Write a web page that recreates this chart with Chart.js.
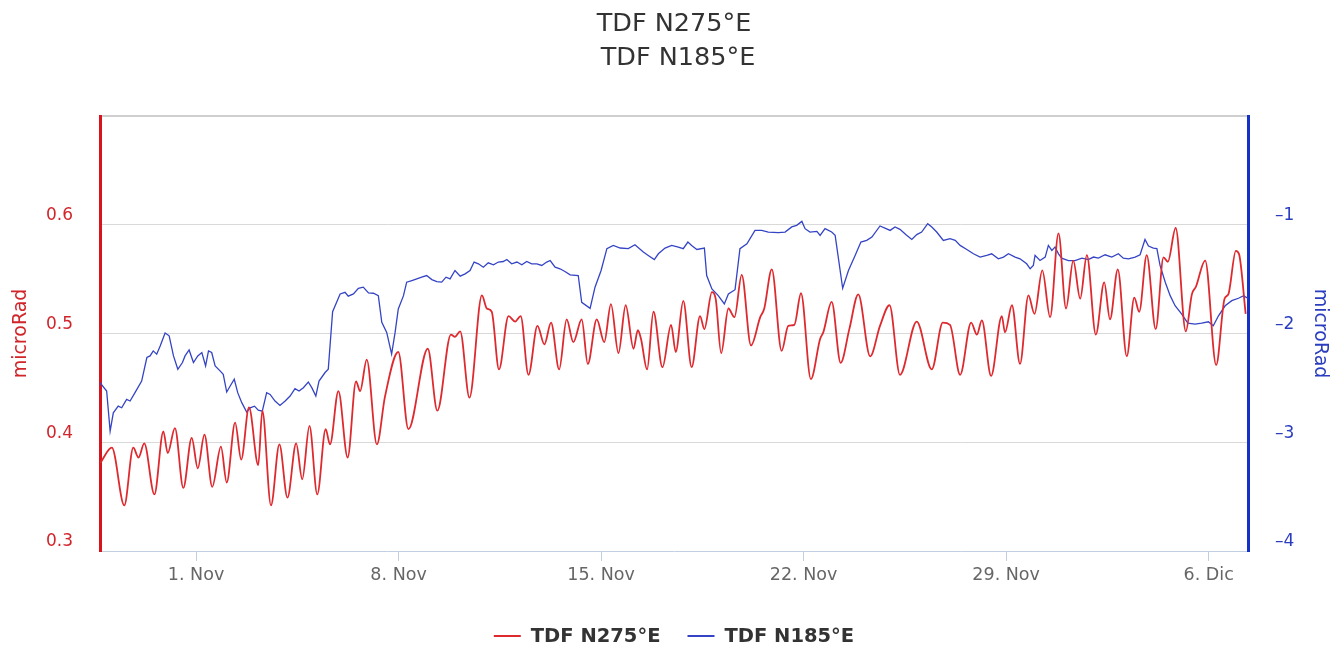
<!DOCTYPE html>
<html>
<head>
<meta charset="utf-8">
<script src="https://cdn.jsdelivr.net/npm/chart.js@4.4.1/dist/chart.umd.min.js"></script>
<style>
  html, body { margin: 0; padding: 0; background: #fff; }
  #wrap { width: 1331px; height: 648px; }
</style>
</head>
<body>
<div id="wrap"><canvas id="tiltChart" width="1331" height="648"></canvas></div>
<script>
// Series names, axis titles and tick labels
const seriesNames = ['TDF N275°E', 'TDF N185°E'];
const titleLines = ['TDF N275°E', ' TDF N185°E'];
const axisTitle = 'microRad';
const monthNames = ['Ene', 'Feb', 'Mar', 'Abr', 'May', 'Jun', 'Jul', 'Ago', 'Sep', 'Oct', 'Nov', 'Dic'];

// Time is counted in days from 1 November, 00:00
const periodStart = Date.UTC(2015, 10, 1);
const xRange = [-3.32, 36.36];
const xTickDays = [0, 7, 14, 21, 28, 35];

const leftTickValues = [0.3, 0.4, 0.5, 0.6, 0.7];
const leftTickLabels = ['0.3', '0.4', '0.5', '0.6', ''];
const rightTickValues = [-4, -3, -2, -1, 0];
const rightTickLabels = ['–4', '–3', '–2', '–1', ''];

// TDF N275°E (left axis)
const redDays = [-3.31,-2.91,-2.48,-2.17,-1.99,-1.79,-1.44,-1.13,-0.98,-0.73,
  -0.44,-0.15,0.06,0.29,0.56,0.86,1.06,1.35,1.56,1.83,
  2.15,2.29,2.59,2.88,3.16,3.46,3.67,3.92,4.19,4.48,
  4.63,4.92,5.24,5.53,5.67,5.90,6.25,6.53,6.99,7.34,
  8.01,8.34,8.81,8.95,9.13,9.45,9.88,10.05,10.22,10.47,
  10.80,11.03,11.22,11.49,11.80,12.04,12.27,12.55,12.81,13.04,
  13.33,13.54,13.85,14.11,14.34,14.60,14.85,15.12,15.27,15.38,
  15.59,15.81,16.12,16.42,16.58,16.84,17.13,17.42,17.57,17.83,
  17.96,18.15,18.40,18.61,18.86,19.18,19.50,19.64,19.90,20.24,
  20.47,20.68,20.91,21.25,21.57,21.68,21.97,22.28,22.58,22.89,
  23.30,23.64,23.97,24.33,24.91,25.43,25.81,26.06,26.41,26.79,
  26.99,27.16,27.48,27.85,27.96,28.20,28.48,28.77,28.98,29.25,
  29.52,29.81,30.07,30.32,30.56,30.79,31.10,31.39,31.59,31.86,
  32.17,32.43,32.60,32.86,33.17,33.44,33.59,33.86,34.21,34.42,
  34.56,34.88,35.26,35.55,35.68,35.94,36.05,36.28];
const redValues = [0.381,0.395,0.342,0.395,0.386,0.399,0.352,0.410,0.390,0.413,
  0.358,0.404,0.376,0.407,0.359,0.396,0.363,0.418,0.384,0.432,
  0.379,0.429,0.342,0.398,0.349,0.399,0.366,0.415,0.352,0.412,
  0.398,0.447,0.386,0.456,0.447,0.476,0.398,0.442,0.483,0.412,
  0.486,0.429,0.499,0.497,0.502,0.441,0.535,0.523,0.520,0.467,
  0.516,0.511,0.516,0.462,0.507,0.490,0.510,0.467,0.513,0.492,
  0.513,0.472,0.513,0.492,0.527,0.482,0.526,0.486,0.503,0.495,
  0.467,0.520,0.469,0.508,0.483,0.530,0.469,0.516,0.504,0.538,
  0.532,0.482,0.523,0.515,0.554,0.489,0.515,0.523,0.559,0.484,
  0.507,0.508,0.537,0.458,0.495,0.501,0.529,0.473,0.504,0.536,
  0.479,0.507,0.526,0.462,0.511,0.467,0.510,0.508,0.462,0.510,
  0.499,0.512,0.461,0.516,0.501,0.526,0.472,0.535,0.518,0.558,
  0.515,0.592,0.523,0.567,0.532,0.572,0.499,0.547,0.513,0.559,
  0.479,0.533,0.520,0.572,0.504,0.570,0.566,0.597,0.502,0.536,
  0.543,0.567,0.471,0.532,0.536,0.576,0.573,0.518];

// TDF N185°E (right axis)
const blueDays = [-3.32,-3.09,-2.97,-2.86,-2.69,-2.57,-2.40,-2.28,-2.11,-1.88,
  -1.70,-1.59,-1.48,-1.36,-1.24,-1.07,-0.93,-0.78,-0.63,-0.47,
  -0.38,-0.24,-0.09,0.06,0.20,0.33,0.43,0.54,0.66,0.83,
  0.94,1.06,1.18,1.32,1.44,1.58,1.75,1.87,2.02,2.15,
  2.29,2.44,2.56,2.73,2.90,3.08,3.25,3.42,3.56,3.71,
  3.88,4.00,4.14,4.25,4.46,4.57,4.72,4.98,5.15,5.26,
  5.44,5.61,5.78,5.96,6.13,6.30,6.42,6.59,6.76,6.88,
  6.99,7.17,7.28,7.46,7.63,7.80,7.97,8.15,8.32,8.49,
  8.64,8.78,8.95,9.13,9.30,9.47,9.61,9.76,9.93,10.10,
  10.28,10.45,10.62,10.74,10.91,11.09,11.26,11.43,11.60,11.78,
  11.95,12.12,12.24,12.41,12.58,12.75,12.93,13.21,13.33,13.62,
  13.79,14.00,14.20,14.42,14.66,14.94,15.17,15.46,15.63,15.84,
  15.98,16.21,16.44,16.67,16.84,17.00,17.13,17.31,17.57,17.65,
  17.83,18.05,18.26,18.40,18.63,18.80,19.04,19.32,19.55,19.78,
  20.13,20.36,20.59,20.76,20.94,21.05,21.22,21.46,21.57,21.74,
  21.97,22.09,22.35,22.55,22.78,22.98,23.18,23.36,23.64,23.85,
  23.99,24.16,24.33,24.54,24.74,24.91,25.08,25.29,25.43,25.60,
  25.83,26.06,26.24,26.41,26.64,26.87,27.10,27.33,27.50,27.73,
  27.91,28.08,28.31,28.48,28.71,28.83,28.94,29.00,29.17,29.35,
  29.46,29.58,29.69,29.81,29.92,30.15,30.38,30.62,30.84,31.02,
  31.19,31.42,31.65,31.88,32.05,32.23,32.46,32.63,32.80,32.92,
  33.09,33.21,33.32,33.50,33.67,33.84,34.07,34.28,34.53,34.76,
  34.99,35.16,35.34,35.57,35.80,36.03,36.21,36.38];
const blueValues = [-2.452,-2.529,-2.898,-2.729,-2.668,-2.683,-2.606,-2.621,-2.544,-2.437,
  -2.221,-2.206,-2.160,-2.190,-2.114,-1.996,-2.021,-2.206,-2.329,-2.267,
  -2.206,-2.151,-2.267,-2.206,-2.175,-2.298,-2.160,-2.175,-2.298,-2.344,
  -2.375,-2.538,-2.483,-2.421,-2.544,-2.636,-2.723,-2.683,-2.668,-2.705,
  -2.714,-2.544,-2.560,-2.621,-2.661,-2.621,-2.575,-2.507,-2.529,-2.498,
  -2.446,-2.498,-2.575,-2.437,-2.359,-2.329,-1.800,-1.636,-1.621,-1.657,
  -1.636,-1.584,-1.574,-1.627,-1.630,-1.652,-1.897,-1.990,-2.190,-1.990,
  -1.775,-1.652,-1.528,-1.513,-1.498,-1.482,-1.467,-1.504,-1.523,-1.528,
  -1.482,-1.498,-1.421,-1.473,-1.452,-1.421,-1.343,-1.359,-1.390,-1.350,
  -1.368,-1.343,-1.338,-1.320,-1.359,-1.343,-1.368,-1.338,-1.359,-1.359,
  -1.374,-1.343,-1.329,-1.390,-1.405,-1.430,-1.461,-1.467,-1.713,-1.769,
  -1.574,-1.421,-1.220,-1.190,-1.214,-1.220,-1.184,-1.251,-1.282,-1.320,
  -1.267,-1.214,-1.190,-1.205,-1.220,-1.159,-1.190,-1.227,-1.214,-1.467,
  -1.590,-1.652,-1.728,-1.636,-1.597,-1.220,-1.175,-1.052,-1.052,-1.067,
  -1.073,-1.067,-1.020,-1.005,-0.969,-1.036,-1.067,-1.061,-1.098,-1.036,
  -1.067,-1.098,-1.584,-1.421,-1.282,-1.159,-1.144,-1.113,-1.011,-1.036,
  -1.052,-1.020,-1.042,-1.091,-1.135,-1.091,-1.067,-0.990,-1.020,-1.067,
  -1.144,-1.128,-1.144,-1.190,-1.227,-1.267,-1.297,-1.282,-1.267,-1.313,
  -1.297,-1.267,-1.297,-1.313,-1.359,-1.405,-1.374,-1.282,-1.329,-1.297,
  -1.190,-1.236,-1.205,-1.267,-1.307,-1.329,-1.329,-1.307,-1.320,-1.297,
  -1.307,-1.276,-1.297,-1.267,-1.307,-1.313,-1.297,-1.276,-1.135,-1.196,
  -1.214,-1.220,-1.374,-1.528,-1.652,-1.745,-1.821,-1.904,-1.913,-1.904,
  -1.892,-1.929,-1.837,-1.745,-1.698,-1.676,-1.652,-1.682];

const redColor = '#de2a2f';
const blueColor = '#3444c4';
const redAxisColor = '#d7141c';
const blueAxisColor = '#1432c6';
const redLabelColor = '#d0262b';
const blueLabelColor = '#2a3cbf';

Chart.defaults.font.family = '"DejaVu Sans", Verdana, sans-serif';

function dayLabel(day) {
  const d = new Date(periodStart + day * 86400000);
  return d.getUTCDate() + '. ' + monthNames[d.getUTCMonth()];
}

// Line-and-name key drawn centred under the plot
const seriesKey = {
  id: 'seriesKey',
  afterDraw(chart, args, opts) {
    const ctx = chart.ctx;
    const area = chart.chartArea;
    ctx.save();
    ctx.font = opts.font;
    ctx.textBaseline = 'middle';
    ctx.textAlign = 'left';
    const items = chart.data.datasets.map(ds => ({
      label: ds.label, color: ds.borderColor, w: ctx.measureText(ds.label).width
    }));
    const total = items.reduce((s, it) => s + opts.lineLength + opts.gap + it.w, 0)
      + opts.spacing * (items.length - 1);
    let x = (area.left + area.right) / 2 - total / 2;
    for (const it of items) {
      ctx.strokeStyle = it.color;
      ctx.lineWidth = 2;
      ctx.beginPath();
      ctx.moveTo(x, opts.y);
      ctx.lineTo(x + opts.lineLength, opts.y);
      ctx.stroke();
      x += opts.lineLength + opts.gap;
      ctx.fillStyle = opts.color;
      ctx.fillText(it.label, x, opts.y + 1);
      x += it.w + opts.spacing;
    }
    ctx.restore();
  }
};

new Chart(document.getElementById('tiltChart'), {
  type: 'line',
  data: {
    datasets: [
      {
        label: seriesNames[0],
        data: redDays.map((d, i) => ({ x: d, y: redValues[i] })),
        yAxisID: 'yLeft',
        borderColor: redColor,
        borderWidth: 1.8,
        pointRadius: 0,
        cubicInterpolationMode: 'monotone',
        fill: false
      },
      {
        label: seriesNames[1],
        data: blueDays.map((d, i) => ({ x: d, y: blueValues[i] })),
        yAxisID: 'yRight',
        borderColor: blueColor,
        borderWidth: 1.3,
        pointRadius: 0,
        tension: 0,
        fill: false
      }
    ]
  },
  options: {
    responsive: false,
    devicePixelRatio: 1,
    animation: false,
    events: [],
    layout: { padding: 0 },
    plugins: {
      legend: { display: false },
      tooltip: { enabled: false },
      title: {
        display: true,
        text: titleLines,
        fullSize: false,
        color: '#333',
        font: { size: 25.5, weight: 'normal', lineHeight: 34 / 25.5 },
        padding: { top: 7, bottom: 41 }
      },
      seriesKey: {
        y: 636, lineLength: 27, gap: 10, spacing: 27,
        font: 'bold 19.5px "DejaVu Sans"', color: '#333'
      }
    },
    scales: {
      x: {
        type: 'linear',
        position: 'bottom',
        min: xRange[0],
        max: xRange[1],
        afterFit: s => { s.height = 97; },
        afterBuildTicks: s => { s.ticks = xTickDays.map(v => ({ value: v })); },
        ticks: {
          callback: v => dayLabel(v),
          color: '#666',
          font: { size: 17.5 },
          padding: 4,
          maxRotation: 0,
          autoSkip: false
        },
        grid: { drawOnChartArea: false, color: '#c0d0e0', tickLength: 10 },
        border: { color: '#c0d0e0', width: 1 }
      },
      yLeft: {
        type: 'linear',
        position: 'left',
        min: leftTickValues[0],
        max: leftTickValues[leftTickValues.length - 1],
        afterFit: s => { s.width = 100; },
        afterBuildTicks: s => { s.ticks = leftTickValues.map(v => ({ value: v })); },
        ticks: {
          callback: (v, i) => leftTickLabels[i],
          color: redLabelColor,
          font: { size: 17 },
          padding: 27,
          labelOffset: -9
        },
        grid: {
          drawTicks: false,
          color: c => c.index === 0 ? 'rgba(0,0,0,0)' : (c.index === leftTickValues.length - 1 ? '#cfcfcf' : '#d9d9d9'),
          lineWidth: c => c.index === leftTickValues.length - 1 ? 2 : 1
        },
        border: { color: redAxisColor, width: 3 },
        title: {
          display: true,
          text: axisTitle,
          color: redLabelColor,
          font: { size: 19 },
          padding: { top: 10, bottom: 0 }
        }
      },
      yRight: {
        type: 'linear',
        position: 'right',
        min: rightTickValues[0],
        max: rightTickValues[rightTickValues.length - 1],
        afterFit: s => { s.width = 83; },
        afterBuildTicks: s => { s.ticks = rightTickValues.map(v => ({ value: v })); },
        ticks: {
          callback: (v, i) => rightTickLabels[i],
          color: blueLabelColor,
          font: { size: 17 },
          padding: 27,
          labelOffset: -9
        },
        grid: { drawOnChartArea: false, drawTicks: false },
        border: { color: blueAxisColor, width: 3 },
        title: {
          display: true,
          text: axisTitle,
          color: blueLabelColor,
          font: { size: 19 },
          padding: { top: 0, bottom: 0 }
        }
      }
    }
  },
  plugins: [seriesKey]
});
</script>
</body>
</html>
